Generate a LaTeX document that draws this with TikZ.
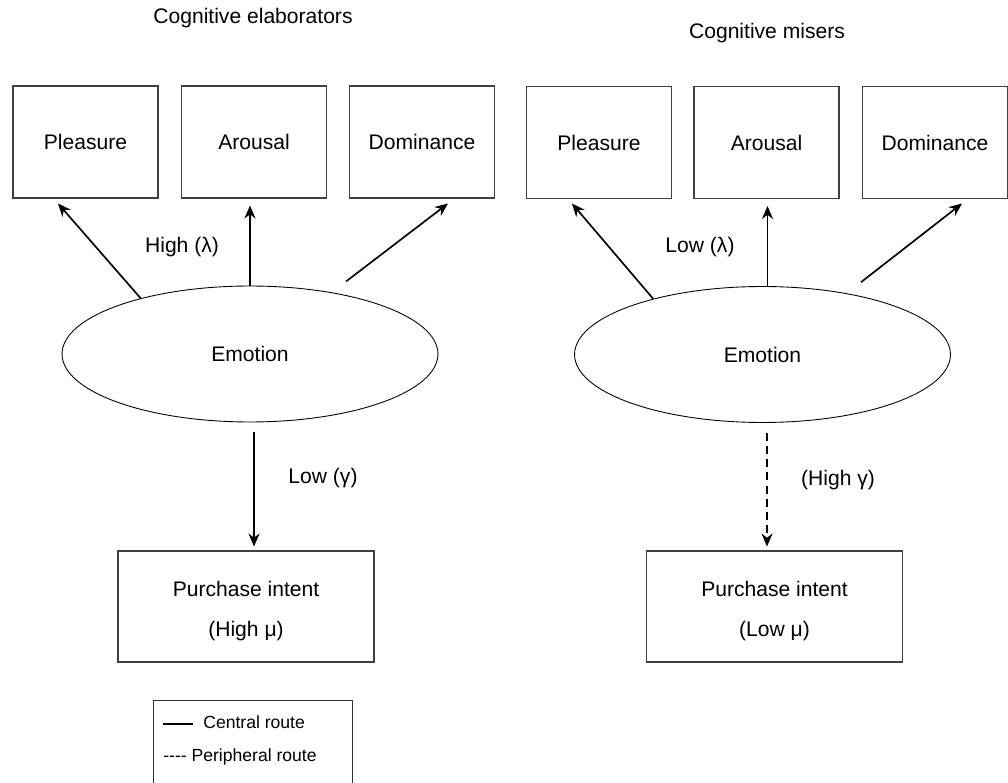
\documentclass[tikz,border=0pt]{standalone}
\usepackage{fontspec}
\setmainfont{Liberation Sans}[Ligatures=TeXOff]
\usepackage{tikz}
\usetikzlibrary{shapes,arrows.meta}

\begin{document}
\begin{tikzpicture}[
  x=0.02cm, y=-0.02cm,
  every node/.style={font=\fontsize{12}{14.4}\selectfont},
  construct/.style={draw=black!75, line width=0.6pt, rectangle, minimum width=2.9cm, minimum height=2.24cm},
  latent/.style={draw, line width=0.5pt, ellipse, minimum width=7.52cm, minimum height=2.72cm},
  outcome/.style={draw=black!75, line width=0.6pt, rectangle, minimum width=5.12cm, minimum height=2.22cm, align=center},
  arr/.style={line width=0.95pt, -{Stealth[length=2.6mm,width=2.2mm]}},
  dasharr/.style={arr, dash pattern=on 4.5pt off 3pt},
  legendentry/.style={anchor=west, inner sep=0pt, font=\fontsize{10}{12}\selectfont},
]
\useasboundingbox (0,0) rectangle (1008,783);

% left: elaborators
\node (titL) at (253,18) {Cognitive elaborators};
\node (pleL) [construct] at (85.5,142) {Pleasure};
\node (aroL) [construct] at (254,142) {Arousal};
\node (domL) [construct] at (422,142) {Dominance};
\node (emoL) [latent] at (250,354) {Emotion};
\node (purL) [outcome] at (246,606.5) {\rule{0pt}{14pt}Purchase intent\\[8pt](High μ)};
\node (lamL) at (182,247) {High (λ)};
\node (gamL) at (323,478) {Low (γ)};

\draw[arr] (emoL.153) -- ([xshift=-0.55cm,yshift=-0.1cm]pleL.south);
\draw[arr, shorten >=0.14cm] (emoL.north) -- (emoL.north |- aroL.south);
\draw[arr, shorten <=0.36cm] (emoL.37) -- ([xshift=0.52cm,yshift=-0.1cm]domL.south);
\draw[arr, shorten <=0.2cm, shorten >=0.08cm]
  ([xshift=0.08cm]emoL.south) -- ([xshift=0.08cm]emoL.south |- purL.north);

% right: misers
\node (titR) at (767,33) {Cognitive misers};
\node (pleR) [construct] at (599,142.5) {Pleasure};
\node (aroR) [construct] at (766.5,142.5) {Arousal};
\node (domR) [construct] at (935,142.5) {Dominance};
\node (emoR) [latent] at (762.5,354.5) {Emotion};
\node (purR) [outcome] at (774.5,606.5) {\rule{0pt}{14pt}Purchase intent\\[8pt](Low μ)};
\node (lamR) at (700,247) {Low (λ)};
\node (gamR) at (838,480) {(High γ)};

\draw[arr] (emoR.153) -- ([xshift=-0.54cm,yshift=-0.09cm]pleR.south);
\draw[arr, shorten >=0.14cm] ([xshift=0.1cm]emoR.north) -- ([xshift=0.1cm]emoR.north |- aroR.south);
\draw[arr, shorten <=0.36cm] (emoR.36) -- ([xshift=0.54cm,yshift=-0.09cm]domR.south);
\draw[dasharr, shorten <=0.2cm, shorten >=0.08cm]
  ([xshift=0.09cm]emoR.south) -- ([xshift=0.09cm]emoR.south |- purR.north);

% legend
\node (legend) [draw=black!80, line width=0.6pt, anchor=north west, minimum width=3.98cm, minimum height=1.9cm] at (153,700) {};
\node (legcentral) [legendentry] at (163,722) {\rule[0.33ex]{0.6cm}{1.1pt}\hspace{0.2cm}Central route};
\node (legperiph) [legendentry] at (163,757) {---- Peripheral route};

\end{tikzpicture}
\end{document}
